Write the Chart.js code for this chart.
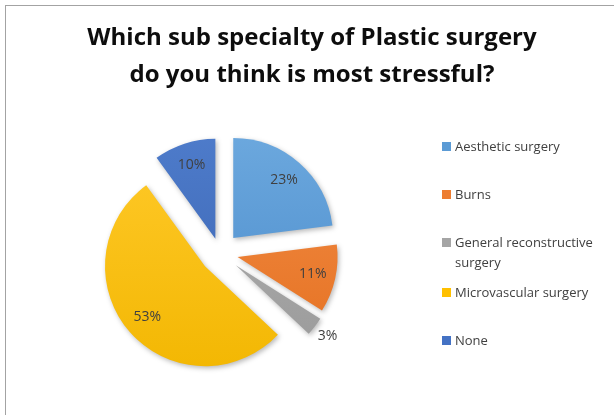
<!DOCTYPE html>
<html>
<head>
<meta charset="utf-8">
<script src="https://cdn.jsdelivr.net/npm/chart.js@4.4.1/dist/chart.umd.min.js"></script>
<style>
html,body{margin:0;padding:0;background:#fff;}
body{width:614px;height:415px;position:relative;overflow:hidden;font-family:"Open Sans",Lato,sans-serif;}
#frame{position:absolute;left:5px;top:5px;width:700px;height:500px;border:1.5px solid #a3a3a3;box-sizing:border-box;}
#title{position:absolute;left:5px;width:614px;top:17px;text-align:center;font-weight:700;font-size:24px;line-height:37px;color:#0d0d0d;}
#chart{position:absolute;left:0;top:0;}
#legend{position:absolute;left:442px;top:0;margin:0;padding:0;list-style:none;font-size:13px;line-height:20px;color:#404040;}
#legend li{position:absolute;left:0;width:170px;}
#legend li .sw{position:absolute;left:0;top:6px;width:9px;height:9px;}
#legend li .tx{display:block;padding-left:13px;width:156px;}
#legend li:nth-child(1){top:136px;}
#legend li:nth-child(2){top:184px;}
#legend li:nth-child(3){top:232px;}
#legend li:nth-child(4){top:282px;}
#legend li:nth-child(5){top:330px;}
</style>
</head>
<body>
<div id="frame"></div>
<canvas id="chart" width="614" height="415"></canvas>
<div id="title"></div>
<ul id="legend"></ul>
<script>
const titleLines = ['Which sub specialty of Plastic surgery', 'do you think is most stressful?'];
const categories = ['Aesthetic surgery', 'Burns', 'General reconstructive surgery', 'Microvascular surgery', 'None'];
const values = [23, 11, 3, 53, 10];
const colors = ['#5b9bd5', '#ed7d31', '#a5a5a5', '#ffc000', '#4472c4'];
const lightColors = ['#6eaadf', '#f28c46', '#b3b3b3', '#ffc929', '#4f7dcc'];
const darkColors = ['#4a8bcb', '#e46f1e', '#979797', '#f2b600', '#3a64b2'];

// title
const titleEl = document.getElementById('title');
titleLines.forEach(function (t) {
  const d = document.createElement('div');
  d.textContent = t;
  titleEl.appendChild(d);
});

// legend
const legendEl = document.getElementById('legend');
categories.forEach(function (c, i) {
  const li = document.createElement('li');
  const sw = document.createElement('span');
  sw.className = 'sw';
  sw.style.background = colors[i];
  const tx = document.createElement('span');
  tx.className = 'tx';
  tx.textContent = c;
  li.appendChild(sw);
  li.appendChild(tx);
  legendEl.appendChild(li);
});

// exploded slices: shift each arc outward by its offset without enlarging it
const arcProto = Chart.ArcElement.prototype;
const baseArcDraw = arcProto.draw;
arcProto.draw = function (ctx) {
  const opts = this.options;
  const shift = (opts.offset || 0) / 4;
  const mid = (this.startAngle + this.endAngle) / 2;
  ctx.save();
  ctx.translate(Math.cos(mid) * shift, Math.sin(mid) * shift);
  ctx.shadowColor = 'rgba(0,0,0,0.28)';
  ctx.shadowBlur = 5;
  ctx.shadowOffsetX = 1.5;
  ctx.shadowOffsetY = 2;
  this.options = Object.assign({}, opts, { offset: 0 });
  baseArcDraw.call(this, ctx);
  this.options = opts;
  ctx.restore();
};

const pctLabels = {
  id: 'pctLabels',
  afterDatasetsDraw(chart) {
    const ctx = chart.ctx;
    const meta = chart.getDatasetMeta(0);
    const data = chart.data.datasets[0].data;
    ctx.save();
    ctx.font = '14px "Open Sans", Lato, sans-serif';
    ctx.fillStyle = '#404040';
    ctx.textAlign = 'center';
    ctx.textBaseline = 'middle';
    meta.data.forEach(function (arc, i) {
      const v = data[i];
      const shift = (arc.options.offset || 0) / 4;
      const mid = (arc.startAngle + arc.endAngle) / 2;
      const d = shift + arc.outerRadius * (v < 5 ? 1.16 : 0.77);
      ctx.fillText(v + '%', arc.x + Math.cos(mid) * d, arc.y + Math.sin(mid) * d);
    });
    ctx.restore();
  }
};

function sliceFill(c) {
  const i = c.dataIndex;
  const area = c.chart.chartArea;
  if (!area) return colors[i];
  const g = c.chart.ctx.createLinearGradient(0, area.top, 0, area.bottom);
  g.addColorStop(0, lightColors[i]);
  g.addColorStop(1, darkColors[i]);
  return g;
}

new Chart(document.getElementById('chart'), {
  type: 'pie',
  data: {
    labels: categories,
    datasets: [{
      data: values,
      backgroundColor: sliceFill,
      borderWidth: 0,
      offset: [80, 72, 80, 80, 60],
      hoverOffset: 0,
      clip: false
    }]
  },
  options: {
    responsive: false,
    animation: false,
    radius: 100,
    layout: { padding: { left: 100, right: 274, top: 133, bottom: 42 } },
    plugins: {
      legend: { display: false },
      title: { display: false },
      tooltip: { enabled: false }
    },
    events: []
  },
  plugins: [pctLabels]
});
</script>
</body>
</html>
